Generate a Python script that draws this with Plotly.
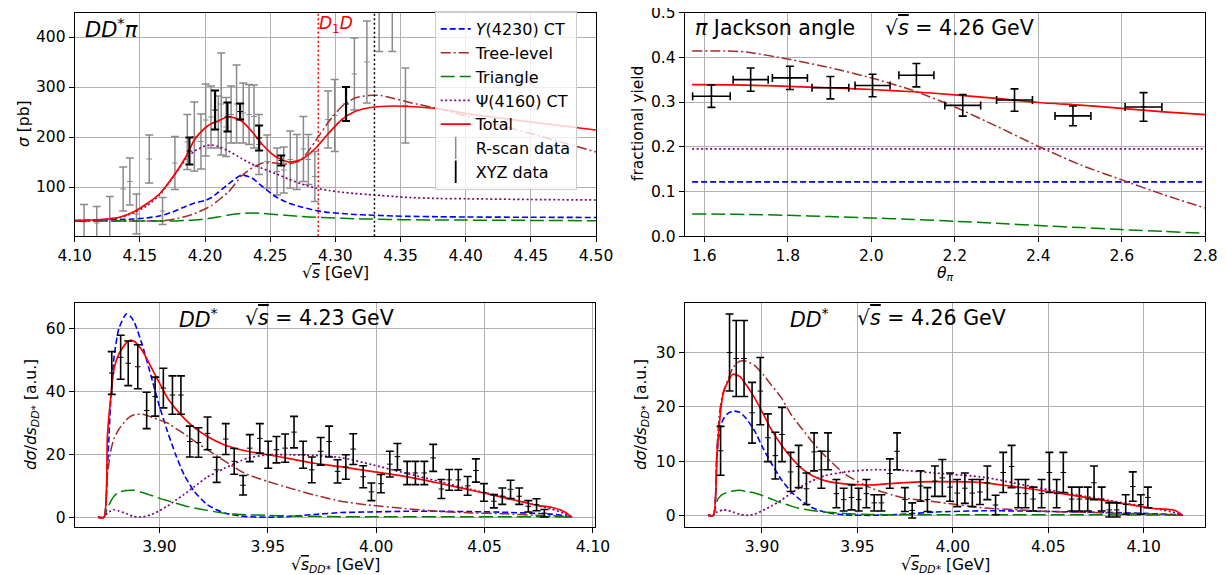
import plotly.graph_objects as go

W, H = 1226, 575
FONT = "DejaVu Sans"

# ---------------- Panel A: DD*pi cross section ----------------
A_x = [4.100, 4.120, 4.135, 4.145, 4.155, 4.165, 4.175, 4.185, 4.192, 4.200, 4.205, 4.210, 4.218, 4.228, 4.236,
       4.244, 4.254, 4.264, 4.274, 4.285, 4.295, 4.305, 4.315, 4.325, 4.335, 4.345, 4.357, 4.380, 4.400, 4.450, 4.500]
A_y4230 = [33, 34, 35, 36, 38, 42, 50, 61, 68, 73, 79, 89, 106, 124, 118, 101, 81, 68, 60, 53, 49, 47, 45, 44, 43,
           42, 41.3, 40.5, 40, 39.5, 39]
A_tree = [32, 32, 32, 32, 32, 32, 35, 41, 47, 56, 63, 73, 90, 122, 138, 148, 148, 146, 155, 193, 231, 261, 278, 283,
          283, 277, 269, 256, 242, 207, 170]
A_tri = [32, 32, 32, 32, 32, 32, 32, 33, 34, 36, 38, 40, 44, 47, 48, 47, 45, 43, 41, 39.5, 38.5, 37.5, 36.5, 36, 35.5,
         35, 34.5, 34, 33.8, 33.2, 32.6]
A_psi = [32, 34, 39, 48, 62, 84, 118, 155, 172, 182, 184, 181, 172, 157, 146, 137, 127, 116, 106, 98, 93, 89.5, 87, 85,
         83, 81, 79, 77, 76.5, 75, 74]
A_total = [33, 35, 40, 50, 66, 86, 119, 159, 195, 218, 227, 232, 241, 232, 211, 185, 161, 150, 155, 178, 208, 235, 251,
           258, 261, 262, 261, 256, 247, 230, 214]

A_rs_x = [4.1072, 4.1169, 4.1269, 4.1372, 4.1423, 4.1474, 4.1572, 4.1674, 4.1769, 4.1864, 4.1918, 4.1969, 4.2005,
          4.2046, 4.2102, 4.2124, 4.2162, 4.2200, 4.2242, 4.2293, 4.2338, 4.2376, 4.2414, 4.2477, 4.2553, 4.2604,
          4.2654, 4.2705, 4.2755, 4.2793, 4.2843, 4.2944, 4.2995, 4.3146, 4.3242, 4.3336, 4.3437, 4.3538]
A_rs_y = [30, 28, 35, 96, 111, 46, 156, 52, 148, 190, 201, 191, 234, 240, 230, 266, 220, 245, 266, 248, 245, 241, 185,
          151, 131, 134, 155, 150, 176, 155, 121, 235, 243, 326, 350, 460, 460, 263]
A_rs_e = [35, 33, 46, 44, 47, 40, 48, 27, 53, 55, 69, 55, 72, 62, 52, 102, 59, 57, 78, 60, 60, 63, 60, 53, 47, 46, 57,
          55, 65, 50, 50, 57, 72, 72, 82, 89, 89, 75]

A_xyz_x = [4.188, 4.2077, 4.2172, 4.2269, 4.2415, 4.2585, 4.3082]
A_xyz_y = [172, 254, 240, 251, 198, 153, 266]
A_xyz_e = [27, 39, 29, 16, 25, 10, 34]

A_thresholds = [4.2869, 4.330]

# ---------------- Panel B: pi Jackson angle ----------------
B_x = [1.5708, 1.65, 1.7, 1.8, 1.9, 2.0, 2.1, 2.2, 2.3, 2.4, 2.5, 2.6, 2.7, 2.8]
B_total = [0.339, 0.3385, 0.338, 0.335, 0.332, 0.328, 0.323, 0.316, 0.308, 0.299, 0.293, 0.286, 0.278, 0.272]
B_tree = [0.414, 0.414, 0.412, 0.396, 0.377, 0.354, 0.326, 0.289, 0.246, 0.201, 0.160, 0.126, 0.093, 0.063]
B_tri = [0.050, 0.0495, 0.0488, 0.047, 0.044, 0.041, 0.0375, 0.0336, 0.029, 0.024, 0.0195, 0.015, 0.011, 0.0067]
B_flat_x = [1.5708, 2.8]
B_y4230 = [0.1216, 0.1216]
B_psi = [0.1955, 0.1955]

B_dx = [1.617, 1.711, 1.805, 1.902, 2.003, 2.108, 2.219, 2.343, 2.483, 2.652]
B_dy = [0.313, 0.350, 0.354, 0.332, 0.337, 0.360, 0.2925, 0.3045, 0.269, 0.289]
B_dex = [0.045, 0.042, 0.042, 0.044, 0.042, 0.042, 0.043, 0.043, 0.043, 0.044]
B_dey = [0.025, 0.026, 0.026, 0.025, 0.025, 0.026, 0.024, 0.025, 0.022, 0.032]

# ---------------- Panel C: DD* spectrum at 4.23 GeV ----------------
C_x = [3.8717, 3.8744, 3.8760, 3.8775, 3.8790, 3.8813, 3.8847, 3.8865, 3.8883, 3.8921, 3.8960, 3.8998, 3.9037,
       3.9075, 3.9114, 3.9160, 3.9221, 3.9298, 3.9375, 3.9406, 3.9500, 3.9606, 3.9714, 3.9837, 3.9978, 4.0132,
       4.0286, 4.0440, 4.0594, 4.0748, 4.0809, 4.0870, 4.0904]
C_total = [0, 0, 26, 38, 47, 52, 55.5, 56.3, 56, 53, 48, 43, 38, 34.5, 31.5, 28.6, 25.7, 23.1, 21.5, 21, 19.9, 18.6,
           17.2, 16.1, 14.6, 13.0, 10.9, 8.6, 6.2, 3.7, 3.2, 1.7, 0]
C_y4230 = [0, 0, 15.7, 36.8, 50.6, 60.1, 64.7, 64, 62.2, 54.8, 45.3, 35.8, 27.3, 19.9, 13.5, 8.3, 4.0, 1.4, 0.4, 0.2,
           0, 0.3, 0.9, 1.5, 1.7, 1.9, 1.9, 1.8, 1.6, 1.2, 1.0, 0.5, 0]
C_tree = [0, 0, 13.5, 21, 25, 28, 31, 32, 32.6, 32.8, 32, 31, 30, 28.3, 26.6, 24.3, 21.5, 18, 14.7, 13.6, 11.4, 9.2,
          7.1, 5.1, 3.8, 2.8, 1.9, 1.4, 1.1, 0.6, 0.5, 0.3, 0]
C_tri = [0, 0, 3.0, 5.0, 6.7, 8.0, 8.5, 8.6, 8.6, 7.9, 7.0, 6.1, 5.3, 4.5, 3.7, 3.0, 2.2, 1.3, 0.9, 0.8, 0.6, 0.4,
         0.3, 0.2, 0.2, 0.2, 0.2, 0.2, 0.2, 0.2, 0.15, 0.1, 0]
C_psi = [0, 0, 1.4, 2.0, 2.4, 2.0, 1.2, 0.6, 0.2, 0.1, 0.8, 2.0, 3.6, 5.4, 7.3, 9.7, 12.8, 15.5, 18.0, 18.8, 19.9,
         19.9, 19.7, 19.0, 16.8, 14.1, 11.5, 8.8, 6.4, 3.7, 2.6, 1.2, 0]

C_dx = [3.8780, 3.8821, 3.8856, 3.8900, 3.8941, 3.8980, 3.9018, 3.9060, 3.9099, 3.9140, 3.9180, 3.9222, 3.9264,
        3.9306, 3.9345, 3.9386, 3.9417, 3.9463, 3.9502, 3.9540, 3.9580, 3.9621, 3.9663, 3.9703, 3.9744, 3.9783,
        3.9822, 3.9860, 3.9894, 3.9940, 3.9978, 4.0022, 4.0063, 4.0098, 4.0143, 4.0181, 4.0222, 4.0263, 4.0301,
        4.0337, 4.0379, 4.0422, 4.0460, 4.0497, 4.0543, 4.0582, 4.0620, 4.0660, 4.0702, 4.0740, 4.0776]
C_dy = [45.9, 50.9, 49.0, 47.9, 34.0, 38.4, 41.1, 38.9, 38.9, 24.1, 23.8, 26.7, 15.1, 24.9, 17.8, 10.2, 22.0, 25.1,
        19.9, 21.5, 22.0, 27.1, 19.9, 15.1, 21.0, 24.1, 14.6, 16.0, 21.7, 12.9, 8.1, 10.7, 16.9, 19.3, 14.1, 14.1,
        14.1, 18.9, 9.0, 11.9, 11.9, 10.0, 14.9, 7.9, 5.1, 6.7, 8.9, 6.7, 3.5, 4.0, 1.3]
C_de = [6.8, 7.0, 7.1, 7.0, 5.8, 6.2, 6.3, 6.1, 6.1, 4.9, 4.7, 5.2, 4.0, 4.9, 4.1, 3.1, 4.3, 4.7, 4.3, 4.2, 4.5, 5.0,
        4.3, 4.1, 4.4, 4.9, 3.7, 3.9, 4.9, 3.5, 2.8, 2.9, 4.1, 4.2, 3.7, 3.7, 3.7, 4.3, 3.0, 3.3, 3.3, 3.0, 3.7, 2.8,
        2.1, 2.6, 2.9, 2.6, 1.8, 1.9, 1.2]

# ---------------- Panel D: DD* spectrum at 4.26 GeV ----------------
D_x = [3.8717, 3.8745, 3.8764, 3.8778, 3.8795, 3.8822, 3.8848, 3.8883, 3.8918, 3.8962, 3.9005, 3.9049, 3.9101,
       3.9154, 3.9206, 3.9259, 3.9329, 3.9434, 3.9574, 3.9731, 3.9906, 4.0168, 4.0343, 4.0518, 4.0693, 4.0868,
       4.1043, 4.1165, 4.1204]
D_total = [0, 0, 11.2, 17.3, 22.2, 24.7, 26.0, 25.6, 24.0, 21.6, 18.8, 15.8, 13.0, 10.6, 8.7, 7.4, 6.4, 5.8, 5.6,
           6.0, 6.2, 6.0, 5.2, 4.3, 3.3, 2.3, 1.3, 0.9, 0]
D_tree = [0, 0, 12.4, 19, 22.5, 25, 27.2, 28.4, 28.4, 27.6, 26, 24, 21.7, 18.5, 16.1, 13.7, 11, 7.6, 5.0, 3.3, 2.5,
          1.35, 1.0, 0.7, 0.55, 0.4, 0.25, 0.1, 0]
D_y4230 = [0, 0, 11.2, 15.5, 17.6, 18.8, 19.2, 19.0, 17.8, 15.5, 12.4, 9.6, 6.6, 4.3, 2.7, 1.5, 0.6, 0.1, 0, 0.2,
           0.6, 0.85, 0.8, 0.7, 0.6, 0.5, 0.3, 0.15, 0]
D_tri = [0, 0, 2.6, 3.4, 3.9, 4.3, 4.5, 4.6, 4.4, 4.1, 3.6, 3.0, 2.3, 1.7, 1.2, 0.9, 0.6, 0.35, 0.15, 0.12, 0.12,
         0.12, 0.1, 0.1, 0.1, 0.08, 0.05, 0.03, 0]
D_psi = [0, 0, 0.6, 0.8, 1.0, 0.9, 0.6, 0.2, 0.0, 0.25, 0.9, 1.7, 2.8, 4.1, 5.3, 6.3, 7.3, 8.0, 8.4, 8.3, 7.8, 7.0,
         5.8, 4.6, 3.5, 2.45, 1.35, 0.5, 0]

D_dx = [3.8783, 3.8830, 3.8865, 3.8906, 3.8948, 3.8991, 3.9031, 3.9070, 3.9105, 3.9150, 3.9192, 3.9233, 3.9273,
        3.9311, 3.9346, 3.9390, 3.9428, 3.9469, 3.9507, 3.9547, 3.9588, 3.9626, 3.9670, 3.9708, 3.9749, 3.9787,
        3.9831, 3.9867, 3.9906, 3.9945, 3.9985, 4.0023, 4.0063, 4.0102, 4.0142, 4.0181, 4.0224, 4.0264, 4.0308,
        4.0343, 4.0381, 4.0421, 4.0465, 4.0506, 4.0544, 4.0579, 4.0623, 4.0663, 4.0707, 4.0740, 4.0780, 4.0820,
        4.0859, 4.0906, 4.0943, 4.0985, 4.1022]
D_dy = [11.9, 30.0, 28.9, 28.9, 18.9, 22.9, 14.3, 11.0, 14.9, 8.0, 9.0, 4.9, 11.7, 8.4, 11.8, 4.0, 2.9, 3.3, 2.9,
        4.0, 2.3, 2.3, 7.7, 11.8, 2.9, 0.9, 5.4, 2.9, 6.3, 6.9, 5.2, 4.1, 5.0, 4.1, 4.3, 6.0, 1.9, 7.9, 9.0, 4.0,
        4.0, 3.0, 4.0, 7.9, 4.0, 7.9, 3.0, 3.0, 3.0, 6.0, 3.0, 1.0, 1.0, 2.0, 5.3, 2.0, 3.3]
D_de = [4.5, 7.1, 7.0, 7.0, 5.6, 6.2, 4.4, 4.3, 5.0, 3.6, 3.9, 2.9, 3.5, 3.4, 3.4, 2.6, 2.1, 2.3, 2.1, 2.6, 1.5,
        1.5, 2.7, 3.4, 2.2, 1.4, 2.8, 2.2, 2.8, 3.4, 2.6, 2.5, 2.8, 2.5, 2.3, 3.1, 1.8, 3.7, 3.9, 2.6, 2.6, 2.2,
        2.6, 3.7, 2.6, 3.7, 2.2, 2.2, 2.2, 3.1, 2.2, 1.3, 1.3, 1.8, 2.7, 1.8, 1.9]

# ---------------- styles ----------------
STY = {
    "y4230": dict(color="#0000ff", width=1.6, dash="6px,3px"),
    "tree": dict(color="#a52a2a", width=1.5, dash="10px,3px,2px,3px"),
    "tri": dict(color="#008000", width=1.5, dash="14px,5px"),
    "psi": dict(color="#800080", width=1.7, dash="2px,2.5px"),
    "total": dict(color="#ff0000", width=1.7),
}
NAMES = {"y4230": "<i>Y</i>(4230) CT", "tree": "Tree-level", "tri": "Triangle",
         "psi": "Ψ(4160) CT", "total": "Total"}

fig = go.Figure()


def px_x(p):
    return p / W


def px_y(p):
    return 1 - p / H


def add_curves(xs_map, axis_idx, legend):
    xa = "x" if axis_idx == 1 else f"x{axis_idx}"
    ya = "y" if axis_idx == 1 else f"y{axis_idx}"
    for key in ["y4230", "tree", "tri", "psi", "total"]:
        xs, ys = xs_map[key]
        fig.add_trace(go.Scatter(x=xs, y=ys, mode="lines", line=dict(**STY[key], shape="spline", smoothing=0.6),
                                 name=NAMES[key], showlegend=legend, xaxis=xa, yaxis=ya, hoverinfo="skip"))


def add_data(xs, ys, es, axis_idx, color, thick, exs=None):
    xa = "x" if axis_idx == 1 else f"x{axis_idx}"
    ya = "y" if axis_idx == 1 else f"y{axis_idx}"
    kw = {}
    if exs is not None:
        kw["error_x"] = dict(type="data", array=exs, visible=True, color=color, thickness=thick, width=4)
    fig.add_trace(go.Scatter(
        x=xs, y=ys, mode="markers",
        marker=dict(symbol="line-ew", size=4, color=color, line=dict(width=1, color=color)),
        error_y=dict(type="data", array=es, visible=True, color=color, thickness=thick, width=4),
        showlegend=False, xaxis=xa, yaxis=ya, hoverinfo="skip", **kw))


# Panel A data first (under curves)
add_data(A_rs_x, A_rs_y, A_rs_e, 1, "#8a8a8a", 1.5)
add_curves({"y4230": (A_x, A_y4230), "tree": (A_x, A_tree), "tri": (A_x, A_tri),
            "psi": (A_x, A_psi), "total": (A_x, A_total)}, 1, True)
add_data(A_xyz_x, A_xyz_y, A_xyz_e, 1, "black", 2.2)

# legend entries for the two data sets
fig.add_trace(go.Scatter(x=[None], y=[None], mode="markers", name="R-scan data",
                         marker=dict(symbol="line-ns", size=16, color="#8a8a8a", line=dict(width=1.5, color="#8a8a8a"))))
fig.add_trace(go.Scatter(x=[None], y=[None], mode="markers", name="XYZ data",
                         marker=dict(symbol="line-ns", size=16, color="black", line=dict(width=1.8, color="black"))))

# Panel B
add_curves({"y4230": (B_flat_x, B_y4230), "tree": (B_x, B_tree), "tri": (B_x, B_tri),
            "psi": (B_flat_x, B_psi), "total": (B_x, B_total)}, 2, False)
add_data(B_dx, B_dy, B_dey, 2, "black", 1.6, exs=B_dex)

# Panel C
add_curves({"y4230": (C_x, C_y4230), "tree": (C_x, C_tree), "tri": (C_x, C_tri),
            "psi": (C_x, C_psi), "total": (C_x, C_total)}, 3, False)
add_data(C_dx, C_dy, C_de, 3, "black", 1.6)

# Panel D
add_curves({"y4230": (D_x, D_y4230), "tree": (D_x, D_tree), "tri": (D_x, D_tri),
            "psi": (D_x, D_psi), "total": (D_x, D_total)}, 4, False)
add_data(D_dx, D_dy, D_de, 4, "black", 1.6)

# threshold lines
fig.add_shape(type="line", xref="x", yref="y domain", x0=A_thresholds[0], x1=A_thresholds[0], y0=0, y1=1,
              line=dict(color="red", width=1.5, dash="2px,2.5px"))
fig.add_shape(type="line", xref="x", yref="y domain", x0=A_thresholds[1], x1=A_thresholds[1], y0=0, y1=1,
              line=dict(color="black", width=1.5, dash="2px,2.5px"))

AX = dict(showline=True, linecolor="black", linewidth=1, mirror=True, ticks="outside", ticklen=5,
          tickcolor="black", tickwidth=1, showgrid=True, gridcolor="#b0b0b0", gridwidth=0.8, zeroline=False,
          automargin=False, ticklabeloverflow="allow", tickfont=dict(family=FONT, size=15.5, color="black"))

fig.update_layout(
    width=W, height=H, margin=dict(l=0, r=0, t=0, b=0, autoexpand=False),
    paper_bgcolor="white", plot_bgcolor="white",
    font=dict(family=FONT, size=15.5, color="black"),
    xaxis=dict(AX, domain=[px_x(66.7), px_x(588)], range=[4.10, 4.50],
               tickvals=[4.10, 4.15, 4.20, 4.25, 4.30, 4.35, 4.40, 4.45, 4.50], tickformat=".2f", anchor="y"),
    yaxis=dict(AX, domain=[px_y(228.3), px_y(4.5)], range=[1.4, 449], tickvals=[100, 200, 300, 400], anchor="x"),
    xaxis2=dict(AX, domain=[px_x(676.7), px_x(1197.3)], range=[1.553, 2.8],
                tickvals=[1.6, 1.8, 2.0, 2.2, 2.4, 2.6, 2.8], tickformat=".1f", anchor="y2"),
    yaxis2=dict(AX, domain=[px_y(228.3), px_y(4.5)], range=[0, 0.5001], tickvals=[0, 0.1, 0.2, 0.3, 0.4, 0.5],
                tickformat=".1f", anchor="x2"),
    xaxis3=dict(AX, domain=[px_x(66.7), px_x(587.3)], range=[3.8609, 4.1011],
                tickvals=[3.90, 3.95, 4.00, 4.05, 4.10], tickformat=".2f", anchor="y3"),
    yaxis3=dict(AX, domain=[px_y(519), px_y(295)], range=[-3.09, 68.18], tickvals=[0, 20, 40, 60], anchor="x3"),
    xaxis4=dict(AX, domain=[px_x(676.7), px_x(1197.3)], range=[3.8595, 4.1323],
                tickvals=[3.90, 3.95, 4.00, 4.05, 4.10], tickformat=".2f", anchor="y4"),
    yaxis4=dict(AX, domain=[px_y(519), px_y(295)], range=[-2.15, 39.13], tickvals=[0, 10, 20, 30], anchor="x4"),
    legend=dict(x=px_x(426.7), y=px_y(3), xanchor="left", yanchor="top",
                bgcolor="rgba(255,255,255,0.8)", bordercolor="#cccccc", borderwidth=1,
                font=dict(family=FONT, size=16, color="black"), tracegroupgap=0),
    showlegend=True,
)

SQ = "√<span style='text-decoration:overline'><i>s</i></span>"


def ann(text, xp, yp, size, color="black", xanchor="left", angle=0):
    fig.add_annotation(text=text, x=px_x(xp), y=px_y(yp), xref="paper", yref="paper", showarrow=False,
                       xanchor=xanchor, yanchor="middle", textangle=angle,
                       font=dict(family=FONT, size=size, color=color))


# panel labels
ann("<i>DD</i><sup>*</sup><i>π</i>", 75, 20, 21)
ann("<i>D</i><sub>1</sub><i>D</i>", 309, 16, 17, color="red")
ann("<i>π</i> Jackson angle", 685, 20, 20.5)
ann(SQ + " = 4.26 GeV", 875, 20, 20.5)
ann("<i>DD</i><sup>*</sup>", 169, 310, 20.5)
ann(SQ + " = 4.23 GeV", 235, 310, 20.5)
ann("<i>DD</i><sup>*</sup>", 780, 310, 20.5)
ann(SQ + " = 4.26 GeV", 847, 310, 20.5)

# axis titles
ann("<i>σ</i> [pb]", 16, 116, 15.5, xanchor="center", angle=-90)
ann(SQ + " [GeV]", 327, 265, 15.5, xanchor="center")
ann("fractional yield", 630, 116, 15.5, xanchor="center", angle=-90)
ann("<i>θ</i><sub><i>π</i></sub>", 937, 266, 15.5, xanchor="center")
SQDD = "√<span style='text-decoration:overline'><i>s</i></span><sub><i>DD*</i></sub>"
ann("<i>dσ</i>/<i>ds</i><sub><i>DD*</i></sub> [a.u.]", 24, 407, 15.5, xanchor="center", angle=-90)
ann(SQDD + " [GeV]", 327, 558, 15.5, xanchor="center")
ann("<i>dσ</i>/<i>ds</i><sub><i>DD*</i></sub> [a.u.]", 634, 407, 15.5, xanchor="center", angle=-90)
ann(SQDD + " [GeV]", 937, 558, 15.5, xanchor="center")

fig.write_html("out.html")
